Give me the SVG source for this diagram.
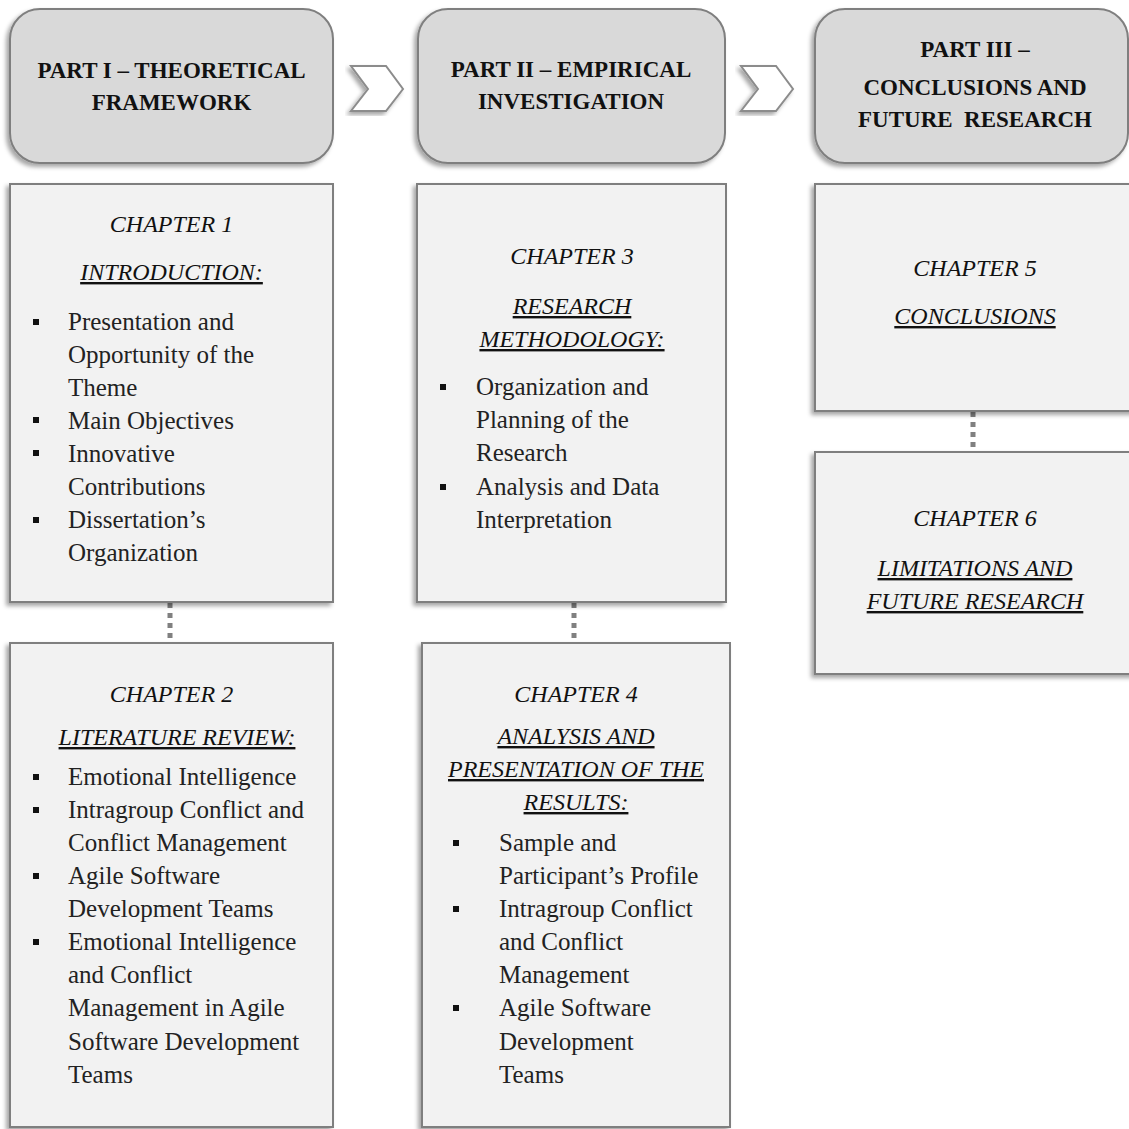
<svg xmlns="http://www.w3.org/2000/svg" width="1129" height="1129" viewBox="0 0 1129 1129">
  <defs>
    <filter id="shadow" x="-10%" y="-10%" width="120%" height="120%">
      <feDropShadow dx="-3" dy="3" stdDeviation="2" flood-color="#000" flood-opacity="0.35"/>
    </filter>
    <style>
      .part { fill: #d9d9d9; stroke: #7f7f7f; stroke-width: 2; filter: url(#shadow); }
      .chap { fill: #f2f2f2; stroke: #7f7f7f; stroke-width: 2; filter: url(#shadow); }
      .chev { fill: #ffffff; stroke: #8c8c8c; stroke-width: 2; stroke-linejoin: miter; filter: url(#shadow); }
      .ptitle { font-family: "Liberation Serif", "DejaVu Serif", serif; font-weight: bold; font-size: 23px; fill: #111; text-anchor: middle; }
      .ctitle { font-family: "Liberation Serif", "DejaVu Serif", serif; font-style: italic; font-size: 24px; fill: #111; text-anchor: middle; }
      .u { text-decoration: underline; }
      .item { font-family: "Liberation Serif", "DejaVu Serif", serif; font-size: 25px; fill: #222; }
      .bullet { fill: #111; }
      .dots { stroke: #808080; stroke-width: 5; stroke-dasharray: 5 5; fill: none; }
    </style>
  </defs>
  <rect width="1129" height="1129" fill="#ffffff"/>

  <!-- connectors between parts and chapters -->
  <g id="connectors">
    <polygon class="chev" points="351,66 386,66 403,89 386,111 351,111 368,89"/>
    <polygon class="chev" points="741,66 776,66 793,89 776,111 741,111 758,89"/>
    <line class="dots" x1="170" y1="603" x2="170" y2="643"/>
    <line class="dots" x1="574" y1="603" x2="574" y2="643"/>
    <line class="dots" x1="973" y1="412" x2="973" y2="452"/>
  </g>

  <!-- part headers -->
  <g id="part1">
    <rect class="part" x="10" y="9" width="323" height="154" rx="30"/>
    <text class="ptitle" x="171.5" y="78">PART I – THEORETICAL</text>
    <text class="ptitle" x="171.5" y="110">FRAMEWORK</text>
  </g>
  <g id="part2">
    <rect class="part" x="418" y="9" width="307" height="154" rx="30"/>
    <text class="ptitle" x="571" y="77">PART II – EMPIRICAL</text>
    <text class="ptitle" x="571" y="109">INVESTIGATION</text>
  </g>
  <g id="part3">
    <rect class="part" x="815" y="9" width="313" height="154" rx="30"/>
    <text class="ptitle" x="975" y="57">PART III –</text>
    <text class="ptitle" x="975" y="95">CONCLUSIONS AND</text>
    <text class="ptitle" x="975" y="127" xml:space="preserve">FUTURE  RESEARCH</text>
  </g>

  <!-- chapter 1 -->
  <g id="chapter1">
    <rect class="chap" x="10" y="184" width="323" height="418"/>
    <text class="ctitle" x="171.5" y="232">CHAPTER 1</text>
    <text class="ctitle u" x="171.5" y="280">INTRODUCTION:</text>
    <rect class="bullet" x="33" y="319" width="6" height="6"/>
    <rect class="bullet" x="33" y="417" width="6" height="6"/>
    <rect class="bullet" x="33" y="450" width="6" height="6"/>
    <rect class="bullet" x="33" y="517" width="6" height="6"/>
    <text class="item" x="68" y="330">Presentation and</text>
    <text class="item" x="68" y="363">Opportunity of the</text>
    <text class="item" x="68" y="396">Theme</text>
    <text class="item" x="68" y="429">Main Objectives</text>
    <text class="item" x="68" y="462">Innovative</text>
    <text class="item" x="68" y="495">Contributions</text>
    <text class="item" x="68" y="528">Dissertation’s</text>
    <text class="item" x="68" y="561">Organization</text>
  </g>

  <!-- chapter 2 -->
  <g id="chapter2">
    <rect class="chap" x="10" y="643" width="323" height="484"/>
    <text class="ctitle" x="171.5" y="702">CHAPTER 2</text>
    <text class="ctitle u" x="177" y="745">LITERATURE REVIEW:</text>
    <rect class="bullet" x="33" y="774" width="6" height="6"/>
    <rect class="bullet" x="33" y="807" width="6" height="6"/>
    <rect class="bullet" x="33" y="873" width="6" height="6"/>
    <rect class="bullet" x="33" y="939" width="6" height="6"/>
    <text class="item" x="68" y="785">Emotional Intelligence</text>
    <text class="item" x="68" y="818">Intragroup Conflict and</text>
    <text class="item" x="68" y="851">Conflict Management</text>
    <text class="item" x="68" y="884">Agile Software</text>
    <text class="item" x="68" y="917">Development Teams</text>
    <text class="item" x="68" y="950">Emotional Intelligence</text>
    <text class="item" x="68" y="983">and Conflict</text>
    <text class="item" x="68" y="1016">Management in Agile</text>
    <text class="item" x="68" y="1050">Software Development</text>
    <text class="item" x="68" y="1083">Teams</text>
  </g>

  <!-- chapter 3 -->
  <g id="chapter3">
    <rect class="chap" x="417" y="184" width="309" height="418"/>
    <text class="ctitle" x="572" y="264">CHAPTER 3</text>
    <text class="ctitle u" x="572" y="314">RESEARCH</text>
    <text class="ctitle u" x="572" y="347">METHODOLOGY:</text>
    <rect class="bullet" x="440" y="384" width="6" height="6"/>
    <rect class="bullet" x="440" y="484" width="6" height="6"/>
    <text class="item" x="476" y="395">Organization and</text>
    <text class="item" x="476" y="428">Planning of the</text>
    <text class="item" x="476" y="461">Research</text>
    <text class="item" x="476" y="495">Analysis and Data</text>
    <text class="item" x="476" y="528">Interpretation</text>
  </g>

  <!-- chapter 4 -->
  <g id="chapter4">
    <rect class="chap" x="422" y="643" width="308" height="484"/>
    <text class="ctitle" x="576" y="702">CHAPTER 4</text>
    <text class="ctitle u" x="576" y="744">ANALYSIS AND</text>
    <text class="ctitle u" x="576" y="777">PRESENTATION OF THE</text>
    <text class="ctitle u" x="576" y="810">RESULTS:</text>
    <rect class="bullet" x="453" y="840" width="6" height="6"/>
    <rect class="bullet" x="453" y="906" width="6" height="6"/>
    <rect class="bullet" x="453" y="1005" width="6" height="6"/>
    <text class="item" x="499" y="851">Sample and</text>
    <text class="item" x="499" y="884">Participant’s Profile</text>
    <text class="item" x="499" y="917">Intragroup Conflict</text>
    <text class="item" x="499" y="950">and Conflict</text>
    <text class="item" x="499" y="983">Management</text>
    <text class="item" x="499" y="1016">Agile Software</text>
    <text class="item" x="499" y="1050">Development</text>
    <text class="item" x="499" y="1083">Teams</text>
  </g>

  <!-- chapter 5 -->
  <g id="chapter5">
    <rect class="chap" x="815" y="184" width="330" height="227"/>
    <text class="ctitle" x="975" y="276">CHAPTER 5</text>
    <text class="ctitle u" x="975" y="324">CONCLUSIONS</text>
  </g>

  <!-- chapter 6 -->
  <g id="chapter6">
    <rect class="chap" x="815" y="452" width="330" height="222"/>
    <text class="ctitle" x="975" y="526">CHAPTER 6</text>
    <text class="ctitle u" x="975" y="576">LIMITATIONS AND</text>
    <text class="ctitle u" x="975" y="609">FUTURE RESEARCH</text>
  </g>
</svg>
